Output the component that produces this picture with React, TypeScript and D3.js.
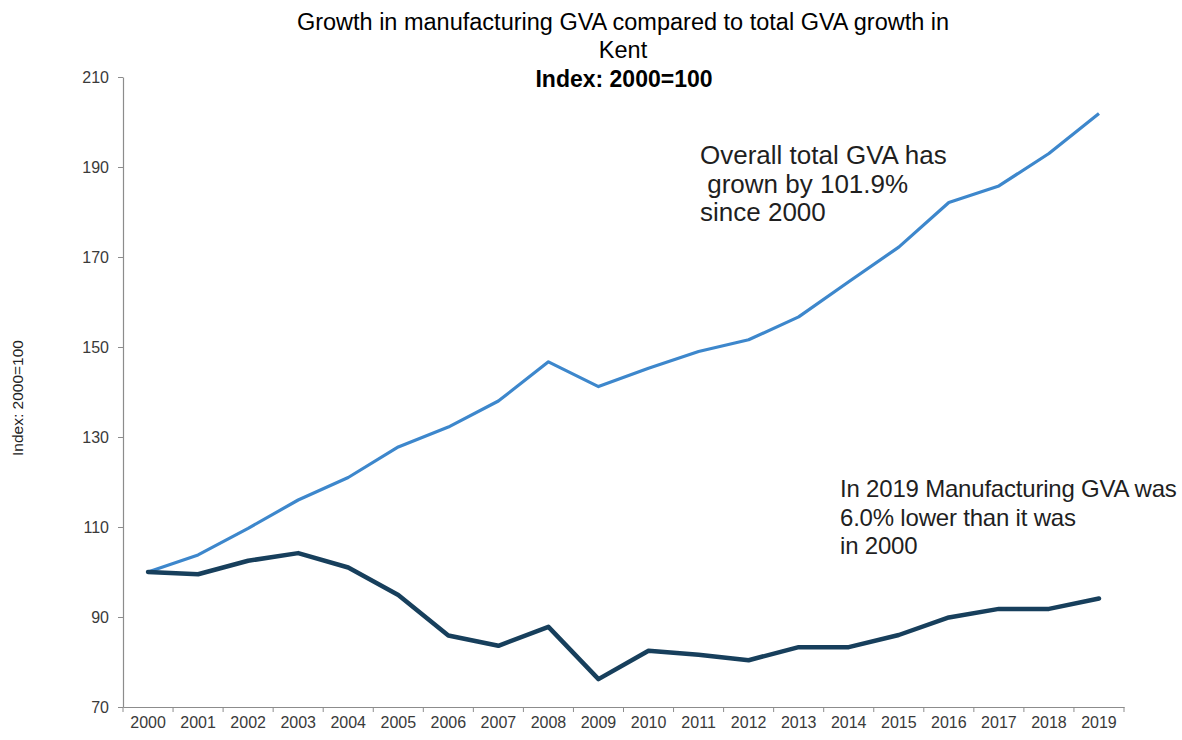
import React, { useEffect, useRef } from "react";
import * as d3 from "d3";

const years = [
  "2000", "2001", "2002", "2003", "2004", "2005", "2006", "2007", "2008", "2009",
  "2010", "2011", "2012", "2013", "2014", "2015", "2016", "2017", "2018", "2019",
];

const totalGva = [
  100, 103.8, 109.7, 116, 121, 127.8, 132.2, 138, 146.7, 141.2,
  145.3, 149, 151.6, 156.7, 164.5, 172.2, 182.1, 185.8, 193, 201.9,
];

const manufacturingGva = [
  100, 99.5, 102.5, 104.2, 101, 94.9, 85.9, 83.6, 87.8, 76.2,
  82.5, 81.6, 80.4, 83.3, 83.3, 86, 89.9, 91.8, 91.8, 94.1,
];

const yTicks = [70, 90, 110, 130, 150, 170, 190, 210];

const titleLines = [
  "Growth in manufacturing GVA compared to total GVA growth in",
  "Kent",
  "Index: 2000=100",
];
const totalNote = ["Overall total GVA has", " grown by 101.9%", "since 2000"];
const manufNote = ["In 2019 Manufacturing GVA was", "6.0% lower than it was", "in 2000"];

const width = 1182;
const height = 740;
const marginLeft = 123;
const marginRight = 58;
const marginTop = 77;
const marginBottom = 33;

const font = "'Liberation Sans', Arial, sans-serif";

export default function App() {
  const gx = useRef<SVGGElement>(null);
  const gy = useRef<SVGGElement>(null);

  const x = d3
    .scaleBand()
    .domain(years)
    .range([marginLeft, width - marginRight]);
  const y = d3
    .scaleLinear()
    .domain([70, 210])
    .range([height - marginBottom, marginTop]);

  const cx = (i: number) => (x(years[i]) as number) + x.bandwidth() / 2;

  const line = d3
    .line<number>()
    .x((d, i) => cx(i))
    .y((d) => y(d));

  useEffect(() => {
    const ax = d3.select(gx.current!);
    ax.selectAll("*").remove();
    ax.call(d3.axisBottom(x).tickSize(0).tickPadding(10));
    ax.select(".domain").attr("stroke", "#8c8c8c").attr("stroke-width", 1.2);
    ax.selectAll(".tick text")
      .attr("font-family", font)
      .attr("font-size", 16)
      .attr("fill", "#3a3a3a");
    // tick marks sit on the band boundaries
    const bounds = years.map((yr) => x(yr) as number).concat([width - marginRight]);
    ax.selectAll("line.bound")
      .data(bounds)
      .enter()
      .append("line")
      .attr("class", "bound")
      .attr("x1", (d) => d)
      .attr("x2", (d) => d)
      .attr("y1", 0)
      .attr("y2", 5)
      .attr("stroke", "#8c8c8c");
  }, [x]);

  useEffect(() => {
    const ay = d3.select(gy.current!);
    ay.selectAll("*").remove();
    ay.call(d3.axisLeft(y).tickValues(yTicks).tickSize(5).tickSizeOuter(0).tickPadding(9));
    ay.select(".domain").attr("stroke", "#8c8c8c").attr("stroke-width", 1.2);
    ay.selectAll(".tick line").attr("stroke", "#8c8c8c");
    ay.selectAll(".tick text")
      .attr("font-family", font)
      .attr("font-size", 16)
      .attr("fill", "#3a3a3a");
  }, [y]);

  return (
    <svg
      width={width}
      height={height}
      style={{ position: "absolute", left: 0, top: 0, background: "#fff" }}
    >
      <g fontFamily={font} fill="#000" textAnchor="middle">
        <text x={623} y={30} fontSize={23.5}>{titleLines[0]}</text>
        <text x={623} y={58} fontSize={23.5}>{titleLines[1]}</text>
        <text x={624} y={87} fontSize={23} fontWeight="bold">{titleLines[2]}</text>
      </g>
      <text
        transform="translate(23,398) rotate(-90)"
        textAnchor="middle"
        fontFamily={font}
        fontSize={15.5}
        fill="#222"
      >
        Index: 2000=100
      </text>
      <g ref={gx} transform={`translate(0,${height - marginBottom})`} />
      <g ref={gy} transform={`translate(${marginLeft},0)`} />
      <path d={line(totalGva) || ""} fill="none" stroke="#3d87cc" strokeWidth={3.2} strokeLinejoin="round" />
      <path d={line(manufacturingGva) || ""} fill="none" stroke="#173f5c" strokeWidth={4.5} strokeLinejoin="round" strokeLinecap="round" />
      <g fontFamily={font} fill="#1f1f1f">
        {totalNote.map((t, i) => (
          <text key={i} x={700} y={164 + i * 28.5} fontSize={26} style={{ whiteSpace: "pre" }}>{t}</text>
        ))}
        {manufNote.map((t, i) => (
          <text key={i} x={840} y={497 + i * 28.7} fontSize={24} letterSpacing={-0.2} style={{ whiteSpace: "pre" }}>{t}</text>
        ))}
      </g>
    </svg>
  );
}
